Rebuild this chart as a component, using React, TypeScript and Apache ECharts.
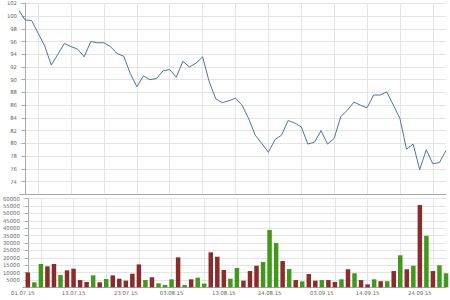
import React, { useEffect, useRef } from "react";
import * as echarts from "echarts";

// Close price before the first shown day (index -1) and the daily closes
const prevClose = 101.0;
const closes = [
  99.4, 99.3, 97.3, 95.3, 92.3, 94.0, 95.7, 95.2, 94.8, 93.6,
  96.0, 95.8, 95.8, 95.2, 94.1, 93.7, 91.0, 88.9, 90.6, 90.0,
  90.2, 91.4, 91.6, 90.4, 92.9, 92.0, 92.6, 93.6, 89.7, 87.0,
  86.4, 86.7, 87.1, 86.0, 83.9, 81.3, 80.0, 78.6, 80.6, 81.3,
  83.6, 83.2, 82.6, 79.9, 80.2, 82.0, 79.9, 80.8, 84.2, 85.2,
  86.5, 86.0, 85.6, 87.6, 87.6, 88.1, 86.0, 83.9, 79.1, 79.9,
  75.9, 79.0, 76.8, 77.0, 78.9,
];

const volumes = [
  10000, 3400, 15800, 14200, 15800, 8300, 11500, 12600, 4900, 3600,
  8100, 3400, 5600, 8100, 5800, 4500, 9200, 15500, 4900, 6800,
  2700, 1600, 5400, 20300, 1600, 5400, 6500, 2500, 23700, 20700,
  11700, 5800, 13100, 4500, 11000, 14600, 17100, 38800, 30000, 17800,
  12400, 4900, 4000, 9000, 4500, 4900, 4900, 3600, 5400, 12200,
  9500, 4900, 2000, 5400, 4100, 4100, 11000, 21700, 12200, 14600,
  55700, 34900, 11000, 14900, 9500,
];

// 'u' = green bar, 'd' = red bar
const volumeDir = [
  "d", "u", "u", "d", "d", "u", "d", "d", "d", "d",
  "u", "d", "u", "d", "d", "d", "d", "d", "u", "d",
  "u", "u", "u", "d", "u", "d", "u", "u", "d", "d",
  "d", "u", "u", "d", "d", "d", "u", "u", "u", "d",
  "u", "d", "u", "d", "d", "u", "d", "d", "u", "d",
  "u", "d", "d", "u", "d", "u", "d", "u", "d", "u",
  "d", "u", "d", "u", "u",
];

// Trading-day index of each Monday (weekly grid lines)
const weekStarts = [2, 7, 12, 17, 22, 27, 32, 37, 42, 47, 52, 57, 62];

// Date labels and the trading-day index they sit at
const dateLabels = ["01.07.15", "13.07.15", "23.07.15", "03.08.15", "13.08.15", "24.08.15", "03.09.15", "14.09.15", "24.09.15"];
const dateLabelIdx = [0, 7, 15, 22, 30, 37, 45, 52, 60];

const X_MIN = -0.76;
const X_MAX = closes.length - 1;

const RED = "#8c2b2b";
const GREEN = "#3f9a1c";
const GRID = "#e4e4e4";
const AXIS = "#a8a8a8";
const LABEL = "#666666";
const FONT = "DejaVu Sans";

export default function App() {
  const ref = useRef<HTMLDivElement>(null);

  useEffect(() => {
    if (!ref.current) return;
    const chart = echarts.init(ref.current, null, { renderer: "svg" });

    const lineData: [number, number][] = [[-1, prevClose]];
    closes.forEach((c, i) => lineData.push([i, c]));

    const barData = volumes.map((v, i) => ({
      value: [i, v],
      itemStyle: { color: volumeDir[i] === "u" ? GREEN : RED },
    }));

    const labelValues = dateLabelIdx.map((v, i) => (i === 0 ? X_MIN : v));

    const xCommon = {
      type: "value" as const,
      min: X_MIN,
      max: X_MAX,
      splitLine: { show: true, lineStyle: { color: GRID, width: 1 } },
      axisLine: { show: true, onZero: false, lineStyle: { color: AXIS, width: 1 } },
    };

    const option: any = {
      animation: false,
      backgroundColor: "#ffffff",
      grid: [
        { left: 20, right: 4, top: 3.3, height: 191.1, containLabel: false },
        { left: 20, right: 4, top: 198.7, height: 88.6, containLabel: false },
      ],
      xAxis: [
        {
          ...xCommon,
          gridIndex: 0,
          axisTick: { show: false, customValues: weekStarts },
          axisLabel: { show: false, customValues: weekStarts },
        },
        {
          ...xCommon,
          gridIndex: 1,
          axisTick: { show: false, customValues: weekStarts },
          axisLabel: {
            show: true,
            customValues: labelValues,
            formatter: (v: number) => {
              const k = labelValues.findIndex((x) => Math.abs(x - v) < 1e-6);
              return k >= 0 ? dateLabels[k] : "";
            },
            color: LABEL,
            fontFamily: FONT,
            fontSize: 5.3,
            margin: 3,
            hideOverlap: false,
          },
        },
      ],
      yAxis: [
        {
          type: "value",
          gridIndex: 0,
          min: 72,
          max: 102,
          interval: 2,
          splitLine: { show: true, lineStyle: { color: GRID, width: 1 } },
          axisLine: { show: true, lineStyle: { color: AXIS, width: 1 } },
          axisTick: { show: true, length: 3, lineStyle: { color: AXIS } },
          axisLabel: {
            color: LABEL,
            fontFamily: FONT,
            fontSize: 5.3,
            margin: 3,
            showMinLabel: false,
            formatter: (v: number) => (v === 72 ? "" : String(v)),
          },
        },
        {
          type: "value",
          gridIndex: 1,
          min: 0,
          max: 60000,
          interval: 5000,
          splitLine: { show: true, lineStyle: { color: GRID, width: 1 } },
          axisLine: { show: true, lineStyle: { color: AXIS, width: 1 } },
          axisTick: { show: true, length: 3, lineStyle: { color: AXIS } },
          axisLabel: {
            color: LABEL,
            fontFamily: FONT,
            fontSize: 5.3,
            margin: 3,
            formatter: (v: number) => (v === 0 ? "" : String(v)),
          },
        },
      ],
      series: [
        {
          type: "line",
          xAxisIndex: 0,
          yAxisIndex: 0,
          data: lineData,
          showSymbol: false,
          symbol: "none",
          clip: true,
          lineStyle: { color: "#4a74a8", width: 1 },
        },
        {
          type: "bar",
          xAxisIndex: 1,
          yAxisIndex: 1,
          data: barData,
          barWidth: 4.5,
          clip: true,
        },
      ],
    };

    chart.setOption(option);
    return () => chart.dispose();
  }, []);

  return (
    <div
      ref={ref}
      style={{ position: "absolute", left: 0, top: 0, width: 450, height: 300 }}
    />
  );
}
